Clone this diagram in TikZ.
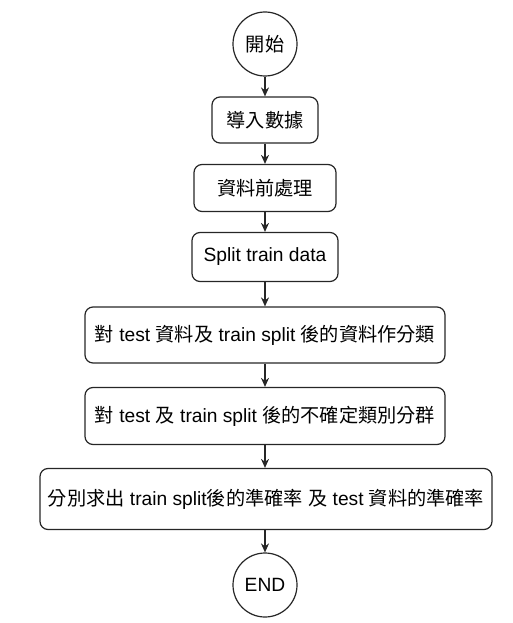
\documentclass[tikz,border=0pt]{standalone}
\usepackage{fontspec}
\setmainfont{Liberation Sans}
\newfontfamily\cjk{Noto Sans CJK TC}
\usetikzlibrary{arrows.meta}
\begin{document}
\begin{tikzpicture}[x=1pt,y=-1pt,
  every node/.style={font=\fontsize{19.2}{23}\selectfont, text=black},
  proc/.style={draw=black!85, line width=1.2pt, rounded corners=8pt, align=center, inner sep=0pt},
  term/.style={draw=black!85, line width=1.2pt, circle, minimum size=64pt, inner sep=0pt},
  flow/.style={draw=black!85, line width=1.2pt, -{Stealth[length=9pt,width=8pt]}}]
\useasboundingbox (0,0) rectangle (513,623);
\node[term] (start) at (265,44) {\cjk 開始};
\node[proc, minimum width=106pt, minimum height=46pt] (n1) at (265,120) {\cjk 導入數據};
\node[proc, minimum width=142pt, minimum height=47pt] (n2) at (265,188) {\cjk 資料前處理};
\node[proc, minimum width=146pt, minimum height=49pt] (n3) at (265,257) {Split train data};
\node[proc, minimum width=360pt, minimum height=56pt] (n4) at (265,335) {{\cjk 對} test {\cjk 資料及} train split {\cjk 後的資料作分類}};
\node[proc, minimum width=360pt, minimum height=57pt] (n5) at (265,416) {{\cjk 對} test {\cjk 及} train split {\cjk 後的不確定類別分群}};
\node[proc, minimum width=452pt, minimum height=61pt] (n6) at (266,499) {{\cjk 分別求出} train split{\cjk 後的準確率} {\cjk 及} test {\cjk 資料的準確率}};
\node[term] (end) at (265,585) {END};
\draw[flow] (start) -- (n1);
\draw[flow] (n1) -- (n2);
\draw[flow] (n2) -- (n3);
\draw[flow] (n3) -- (n4);
\draw[flow] (n4) -- (n5);
\draw[flow] (n5) -- (n6.north -| n5.south);
\draw[flow] (n6.south -| n5.south) -- (end);
\end{tikzpicture}
\end{document}
